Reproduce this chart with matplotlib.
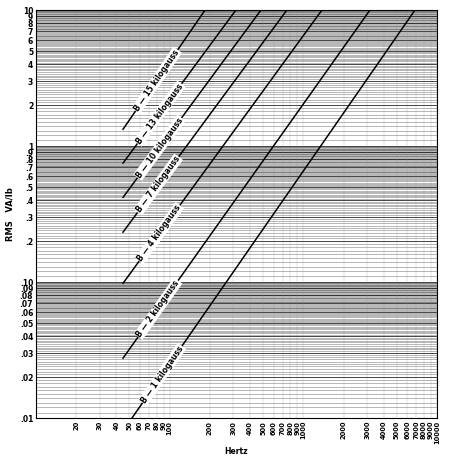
import numpy as np
import matplotlib.pyplot as plt

# B (kilogauss), line start (Hz, VA/lb) and end (Hz, VA/lb)
b_kg = [15, 13, 10, 7, 4, 2, 1]
f_start = [44.8, 44.8, 44.8, 44.8, 44.8, 44.8, 52.2]
v_start = [1.33, 0.75, 0.42, 0.233, 0.098, 0.0276, 0.01]
f_end = [184, 313, 482, 753, 1377, 3150, 6840]
v_end = [10, 10, 10, 10, 10, 10, 10]
label_f = [80, 84, 84, 82, 84, 82, 88]

xticks = [20, 30, 40, 50, 60, 70, 80, 90, 100, 200, 300, 400, 500, 600, 700, 800, 900,
          1000, 2000, 3000, 4000, 5000, 6000, 7000, 8000, 9000, 10000]
yticks = [10, 9, 8, 7, 6, 5, 4, 3, 2, 1, .9, .8, .7, .6, .5, .4, .3, .2,
          .1, .09, .08, .07, .06, .05, .04, .03, .02, .01]
ylabels = ['10', '9', '8', '7', '6', '5', '4', '3', '2', '1', '.9', '.8', '.7', '.6', '.5',
           '.4', '.3', '.2', '.10', '.09', '.08', '.07', '.06', '.05', '.04', '.03', '.02', '.01']

fig = plt.figure(figsize=(4.61, 4.58), dpi=100)
ax = fig.add_axes([0.078, 0.087, 0.87, 0.891])
ax.set_xscale('log')
ax.set_yscale('log')
ax.set_xlim(10, 10000)
ax.set_ylim(0.01, 10)

# dense ruled background like log paper
for dec in [0.01, 0.1, 1]:
    for m in np.arange(1, 10, 0.1):
        major = abs(m - round(m)) < 1e-6
        ax.axhline(dec * m, color='black', lw=0.6 if major else 0.4,
                   alpha=0.85 if major else 0.5, zorder=1)
for xv in xticks:
    ax.axvline(xv, color='gray', lw=0.3, alpha=0.5, zorder=1)

for b, f0, v0, f1, v1, lf in zip(b_kg, f_start, v_start, f_end, v_end, label_f):
    ax.plot([f0, f1], [v0, v1], color='black', lw=1.1, zorder=3)
    t = (np.log10(lf) - np.log10(f0)) / (np.log10(f1) - np.log10(f0))
    lv = 10 ** (np.log10(v0) + t * (np.log10(v1) - np.log10(v0)))
    p0 = ax.transData.transform((f0, v0))
    p1 = ax.transData.transform((f1, v1))
    ang = np.degrees(np.arctan2(p1[1] - p0[1], p1[0] - p0[0]))
    ax.text(lf, lv, f'B \u2014 {b} kilogauss', rotation=ang, rotation_mode='anchor',
            ha='center', va='center', fontsize=5.5, fontweight='bold', zorder=4,
            bbox=dict(facecolor='white', edgecolor='none', pad=0.6))

ax.set_xticks(xticks)
ax.set_xticklabels([str(x) for x in xticks], rotation=90, fontsize=4.8, fontweight='bold')
ax.xaxis.set_minor_locator(plt.NullLocator())
ax.set_yticks(yticks)
ax.set_yticklabels(ylabels, fontsize=5.5, fontweight='bold')
ax.yaxis.set_minor_locator(plt.NullLocator())
ax.tick_params(length=0, pad=2)
ax.set_xlabel('Hertz', fontsize=5.5, fontweight='bold', labelpad=2)
ax.set_ylabel('RMS   VA/lb', fontsize=6, fontweight='bold')
for s in ax.spines.values():
    s.set_linewidth(0.8)

fig.savefig('out.png', dpi=100)
